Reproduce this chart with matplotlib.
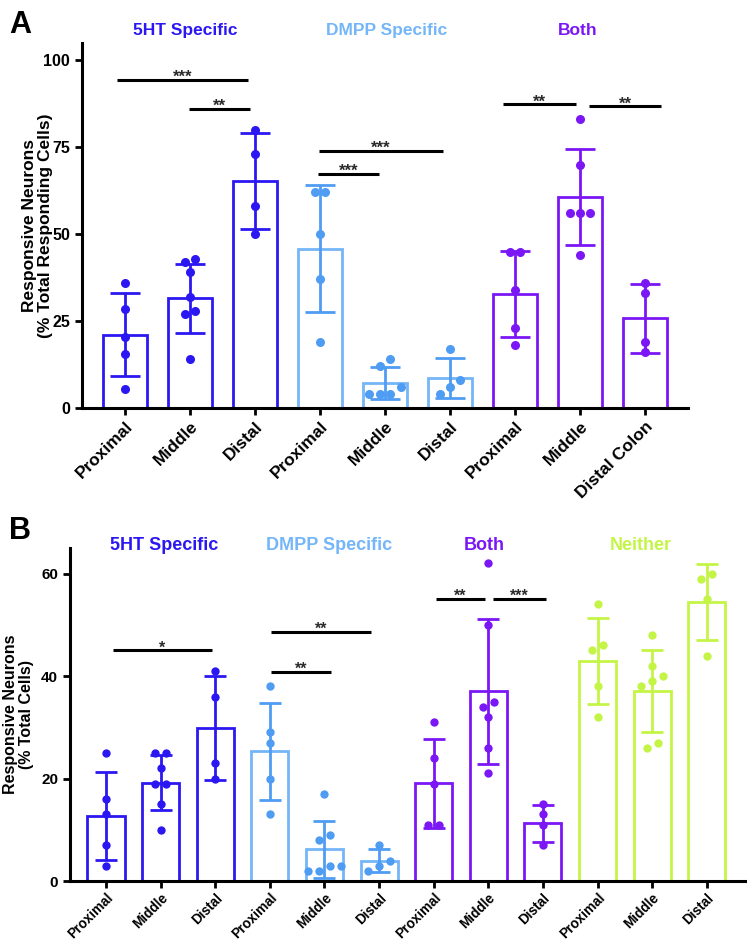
import matplotlib
matplotlib.use("Agg")
import matplotlib.pyplot as plt
import matplotlib.transforms as mtransforms
import numpy as np

plt.rcParams['font.family'] = ['Liberation Sans', 'DejaVu Sans']
plt.rcParams['font.weight'] = 'bold'

# colours of the four groups
c_5ht = '#2B17F2'
c_dmpp_bar = '#74B6F8'
c_dmpp_pt = '#4F9CF3'
c_both = '#7B16F5'
c_neither = '#C4F546'

# ---- panel A: % of total responding cells ----
a_labels = ['Proximal', 'Middle', 'Distal', 'Proximal', 'Middle', 'Distal',
            'Proximal', 'Middle', 'Distal Colon']
a_means = [21.1, 31.5, 65.2, 45.8, 7.2, 8.6, 32.8, 60.6, 25.8]
a_sd = [11.9, 10.0, 13.8, 18.3, 4.6, 5.8, 12.3, 13.8, 10.0]
a_points = [
    [36, 28.5, 20.5, 15.5, 5.5],
    [43, 42, 39, 32, 28, 27, 14],
    [80, 73, 58, 50],
    [62, 62, 50, 37, 19],
    [14, 12, 6, 4, 4, 4],
    [17, 8, 6, 4],
    [45, 45, 34, 23, 18],
    [83, 70, 56, 56, 56, 44],
    [36, 33, 19, 16],
]

# ---- panel B: % of total cells ----
b_labels = ['Proximal', 'Middle', 'Distal'] * 4
b_means = [12.7, 19.2, 29.9, 25.3, 6.2, 4.0, 19.1, 37.0, 11.3, 42.9, 37.0, 54.4]
b_sd = [8.5, 5.4, 10.2, 9.5, 5.6, 2.3, 8.7, 14.2, 3.6, 8.4, 8.0, 7.4]
b_points = [
    [25, 16, 13, 7, 3],
    [25, 25, 22, 19, 19, 15, 10],
    [41, 36, 23, 20],
    [38, 29, 27, 20, 13],
    [17, 9, 8, 3, 2, 2, 3],
    [7, 4, 3, 2],
    [31, 24, 19, 11, 11],
    [62, 50, 35, 34, 32, 26, 21],
    [15, 13, 11, 7],
    [54, 46, 45, 38, 32],
    [48, 42, 40, 39, 38, 27, 26],
    [60, 59, 55, 44],
]

# significance brackets: (x from, x to, y, stars)
a_sig = [(-0.12, 1.89, 94.3, '***'), (0.98, 1.92, 86.0, '**'),
         (2.98, 4.89, 73.9, '***'), (2.97, 3.90, 67.3, '***'),
         (5.82, 6.94, 87.3, '**'), (7.14, 8.25, 86.8, '**')]
b_sig = [(0.13, 1.94, 45.0, '*'), (3.02, 4.85, 48.7, '**'),
         (3.02, 4.12, 40.8, '**'), (6.04, 6.94, 55.1, '**'),
         (7.09, 8.06, 55.1, '***')]


def spread(vals, tol, step):
    # put points with near-equal values side by side, like a scatter dot plot
    vals = np.asarray(vals, dtype=float)
    order = np.argsort(vals)
    offs = np.zeros(len(vals))
    groups = []
    cur = [order[0]]
    for i in order[1:]:
        if vals[i] - vals[cur[-1]] < tol:
            cur.append(i)
        else:
            groups.append(cur)
            cur = [i]
    groups.append(cur)
    for g in groups:
        n = len(g)
        for k, idx in enumerate(g):
            offs[idx] = (k - (n - 1) / 2) * step
    return offs


def draw_panel(ax, labels, means, sd, points, bar_cols, pt_cols, sig,
               tol, step, capsize, msize, lab_fs, star_fs):
    x = np.arange(len(labels))
    for i in x:
        ax.bar(i, means[i], width=0.68, facecolor='white',
               edgecolor=bar_cols[i], linewidth=2.0, zorder=2)
        ax.errorbar(i, means[i], yerr=sd[i], color=pt_cols[i], capsize=capsize,
                    capthick=2.0, elinewidth=2.0, zorder=3)
        offs = spread(points[i], tol, step)
        ax.plot(i + offs, points[i], 'o', color=pt_cols[i], markersize=msize,
                markeredgewidth=0, zorder=4)
    for x1, x2, y, s in sig:
        ax.plot([x1, x2], [y, y], color='black', lw=2.2, solid_capstyle='butt',
                zorder=5, clip_on=False)
        ax.annotate(s, xy=((x1 + x2) / 2, y), xytext=(0, -1.5),
                    textcoords='offset points', ha='center', va='baseline',
                    fontsize=star_fs, fontweight='bold', color='#2a2a2a')
    ax.set_xticks(x)
    ax.set_xticklabels(labels, rotation=45, ha='right', rotation_mode='anchor',
                       fontsize=lab_fs, fontweight='bold')
    for side in ['top', 'right']:
        ax.spines[side].set_visible(False)
    for side in ['left', 'bottom']:
        ax.spines[side].set_linewidth(2.2)
    ax.tick_params(width=2.0, length=5)


fig = plt.figure(figsize=(7.47, 9.44), dpi=100)

# panel A
axA = fig.add_axes([0.1098, 0.5678, 0.8112, 0.3867])
colsA_bar = [c_5ht] * 3 + [c_dmpp_bar] * 3 + [c_both] * 3
colsA_pt = [c_5ht] * 3 + [c_dmpp_pt] * 3 + [c_both] * 3
draw_panel(axA, a_labels, a_means, a_sd, a_points, colsA_bar, colsA_pt, a_sig,
           tol=2.5, step=0.16, capsize=11, msize=6.5, lab_fs=12.5, star_fs=12)
axA.set_xlim(-0.66, 8.66)
axA.set_ylim(0, 105)
axA.set_yticks([0, 25, 50, 75, 100])
axA.tick_params(axis='y', labelsize=11.5)
axA.tick_params(axis='x', pad=3)
for t in axA.get_yticklabels():
    t.set_fontweight('bold')
axA.set_ylabel('Responsive Neurons\n(% Total Responding Cells)',
               fontsize=12.5, fontweight='bold', linespacing=1.1)
axA.yaxis.set_label_coords(-0.048, 0.5)

trA = mtransforms.blended_transform_factory(axA.transData, fig.transFigure)
for gx, name, col in [(0.93, '5HT Specific', c_5ht), (4.03, 'DMPP Specific', c_dmpp_bar),
                      (6.97, 'Both', c_both)]:
    axA.text(gx, 0.968, name, transform=trA, ha='center', va='center',
             fontsize=12.5, fontweight='bold', color=col)
fig.text(0.012, 0.973, 'A', fontsize=22, fontweight='bold', va='center')

# panel B
axB = fig.add_axes([0.0937, 0.0667, 0.9036, 0.3528])
colsB_bar = colsA_bar + [c_neither] * 3
colsB_pt = colsA_pt + [c_neither] * 3
draw_panel(axB, b_labels, b_means, b_sd, b_points, colsB_bar, colsB_pt, b_sig,
           tol=1.6, step=0.2, capsize=8, msize=6, lab_fs=9.8, star_fs=11.5)
axB.set_xlim(-0.66, 11.7)
axB.set_ylim(0, 65)
axB.set_yticks([0, 20, 40, 60])
axB.tick_params(axis='y', labelsize=11)
axB.tick_params(axis='x', pad=2)
for t in axB.get_yticklabels():
    t.set_fontweight('bold')
axB.set_ylabel('Responsive Neurons\n(% Total Cells)',
               fontsize=11.5, fontweight='bold', linespacing=1.1)
axB.yaxis.set_label_coords(-0.053, 0.5)

trB = mtransforms.blended_transform_factory(axB.transData, fig.transFigure)
for gx, name, col in [(1.06, '5HT Specific', c_5ht), (4.08, 'DMPP Specific', c_dmpp_bar),
                      (6.92, 'Both', c_both), (9.8, 'Neither', c_neither)]:
    axB.text(gx, 0.4225, name, transform=trB, ha='center', va='center',
             fontsize=13, fontweight='bold', color=col)
fig.text(0.012, 0.437, 'B', fontsize=22, fontweight='bold', va='center')

fig.savefig('out.png', dpi=100)
